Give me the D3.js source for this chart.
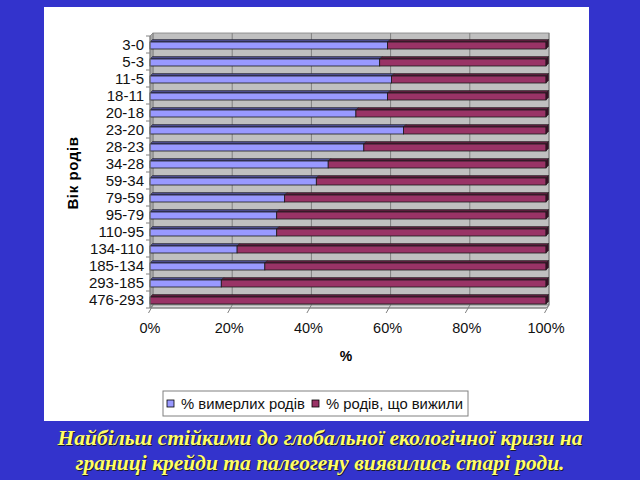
<!DOCTYPE html>
<html>
<head>
<meta charset="utf-8">
<script src="https://cdn.jsdelivr.net/npm/d3@7"></script>
<style>
html,body{margin:0;padding:0;background:#3333cc;}
svg{display:block;}
</style>
</head>
<body>
<script>
const categories = ["3-0","5-3","11-5","18-11","20-18","23-20","28-23","34-28","59-34","79-59","95-79","110-95","134-110","185-134","293-185","476-293"];
const extinct = [60,58,61,60,52,64,54,45,42,34,32,32,22,29,18,0];
const survived = [40,42,39,40,48,36,46,55,58,66,68,68,78,71,82,100];
const xTicks = [0,20,40,60,80,100];
const seriesNames = ["% вимерлих родів","% родів, що вижили"];
const yTitle = "Вік родів";
const xTitle = "%";
const caption = ["Найбільш стійкими до глобальної екологічної кризи на","границі крейди та палеогену виявились старі роди."];

(function(){
const W = 640, H = 480;
const svg = d3.select("body").append("svg").attr("width", W).attr("height", H);
svg.append("rect").attr("width", W).attr("height", H).attr("fill", "#3333cc");
svg.append("rect").attr("x", 44).attr("y", 7).attr("width", 545).attr("height", 414).attr("fill", "#ffffff");

const font = "'Liberation Sans', Arial, sans-serif";
const D = 3; // 3D depth
const x = d3.scaleLinear().domain([0,100]).range([150,546]);
const y = d3.scaleBand().domain(categories).range([36,308]);
const topY = 33, bottomY = 305;

const g = svg.append("g");
// back wall
g.append("rect").attr("x", x(0)+D).attr("y", topY).attr("width", x(100)-x(0)).attr("height", bottomY-topY)
  .attr("fill", "#c0c0c0").attr("stroke", "#808080").attr("stroke-width", 0.8);
// left wall
g.append("path").attr("d", `M${x(0)},${topY+D}L${x(0)+D},${topY}L${x(0)+D},${bottomY}L${x(0)},${bottomY+D}Z`)
  .attr("fill", "#a8a8a8").attr("stroke", "#808080").attr("stroke-width", 0.8);
// floor
g.append("path").attr("d", `M${x(0)},${bottomY+D}L${x(0)+D},${bottomY}L${x(100)+D},${bottomY}L${x(100)},${bottomY+D}Z`)
  .attr("fill", "#d8d8d8").attr("stroke", "#808080").attr("stroke-width", 0.8);
// gridlines
g.selectAll(".grid").data(xTicks.slice(1)).join("line")
  .attr("x1", d => x(d)+D).attr("x2", d => x(d)+D).attr("y1", topY).attr("y2", bottomY)
  .attr("stroke", "#808080").attr("stroke-width", 1);

// bars
const stacked = categories.map((c,i) => ({c, segs:[
  {x0:0, x1:extinct[i], s:0},
  {x0:extinct[i], x1:extinct[i]+survived[i], s:1}
]}));
const front = ["#9999ff","#993366"];
const topC = ["#4c4c8c","#5a1e3c"];
const sideC = ["#3c3c70","#3a1026"];
const bh = 7, th = 2.5;
stacked.forEach(row => {
  const cy = y(row.c) + y.bandwidth()/2;
  const fy = cy - 2.5;
  row.segs.filter(s => s.x1 > s.x0).forEach(s => {
    const x0 = x(s.x0), x1 = x(s.x1);
    g.append("path").attr("d", `M${x0},${fy}L${x0+th},${fy-th}L${x1+th},${fy-th}L${x1},${fy}Z`)
      .attr("fill", topC[s.s]).attr("stroke", "#1a1a1a").attr("stroke-width", 0.5);
    g.append("rect").attr("x", x0).attr("y", fy).attr("width", x1-x0).attr("height", bh)
      .attr("fill", front[s.s]).attr("stroke", "#1a1a1a").attr("stroke-width", 0.8);
  });
  const last = row.segs[1];
  const xr = x(last.x1);
  g.append("path").attr("d", `M${xr},${fy}L${xr+th},${fy-th}L${xr+th},${fy+bh-th}L${xr},${fy+bh}Z`)
    .attr("fill", sideC[1]).attr("stroke", "#1a1a1a").attr("stroke-width", 0.5);
});

// left axis line and ticks
g.append("line").attr("x1", x(0)).attr("x2", x(0)).attr("y1", topY+D).attr("y2", bottomY+D).attr("stroke", "#808080");
const bounds = categories.map(c => y(c)).concat([y.range()[1]]);
g.selectAll(".yt").data(bounds).join("line")
  .attr("x1", x(0)-4).attr("x2", x(0)).attr("y1", d => d).attr("y2", d => d).attr("stroke", "#808080");
// y axis labels via d3 axis
const ya = svg.append("g").attr("transform", `translate(${x(0)-4},0.5)`)
  .call(d3.axisLeft(y).tickSize(0).tickPadding(2));
ya.select(".domain").remove();
ya.selectAll("text").attr("font-family", font).attr("font-size", 15).attr("fill", "#111").attr("dy", "0.34em");

// bottom axis
g.append("line").attr("x1", x(0)).attr("x2", x(100)).attr("y1", bottomY+D).attr("y2", bottomY+D).attr("stroke", "#808080");
g.selectAll(".xt").data(xTicks).join("line")
  .attr("x1", d => x(d)+D).attr("y1", bottomY).attr("x2", d => x(d)-1.5).attr("y2", bottomY+8)
  .attr("stroke", "#808080");
const xa = svg.append("g").attr("transform", `translate(-0.5,${bottomY+14})`)
  .call(d3.axisBottom(x).tickValues(xTicks).tickSize(0).tickPadding(4).tickFormat(d => d + "%"));
xa.select(".domain").remove();
xa.selectAll("text").attr("font-family", font).attr("font-size", 14.5).attr("fill", "#111");

// titles
svg.append("text").attr("x", 346).attr("y", 361).attr("text-anchor", "middle")
  .attr("font-family", font).attr("font-weight", "bold").attr("font-size", 14).text(xTitle);
svg.append("text").attr("transform", "translate(78,173) rotate(-90)").attr("text-anchor", "middle")
  .attr("font-family", font).attr("font-weight", "bold").attr("font-size", 15).attr("letter-spacing", 0.6).text(yTitle);

// legend
const lg = svg.append("g");
lg.append("rect").attr("x", 163).attr("y", 391).attr("width", 305).attr("height", 25)
  .attr("fill", "#fff").attr("stroke", "#808080").attr("stroke-width", 1);
const legX = [167, 312];
seriesNames.forEach((n,i) => {
  lg.append("rect").attr("x", legX[i]).attr("y", 400).attr("width", 7).attr("height", 7)
    .attr("fill", front[i]).attr("stroke", "#000").attr("stroke-width", 0.8);
  lg.append("text").attr("x", legX[i]+14).attr("y", 409).attr("font-family", font).attr("font-size", 14.8)
    .attr("fill", "#111").text(n);
});

// caption
const capY = [445, 470];
caption.forEach((t,i) => {
  svg.append("text").attr("x", 321).attr("y", capY[i]+1).attr("text-anchor", "middle")
    .attr("font-family", "'Liberation Serif','Times New Roman',serif").attr("font-style", "italic").attr("font-weight", "bold")
    .attr("font-size", 21.5).attr("fill", "#1a1a33").text(t);
  svg.append("text").attr("x", 320).attr("y", capY[i]).attr("text-anchor", "middle")
    .attr("font-family", "'Liberation Serif','Times New Roman',serif").attr("font-style", "italic").attr("font-weight", "bold")
    .attr("font-size", 21.5).attr("fill", "#ffff66").text(t);
});
})();
</script>
</body>
</html>
